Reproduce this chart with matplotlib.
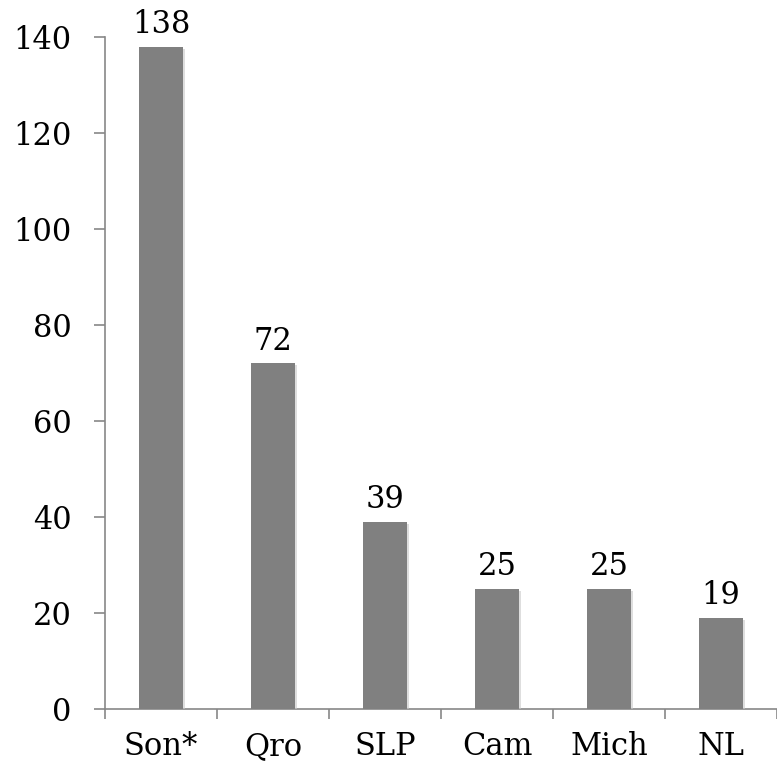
import matplotlib
matplotlib.use("Agg")
import matplotlib.pyplot as plt
import matplotlib.patheffects as pe

categories = ["Son*", "Qro", "SLP", "Cam", "Mich", "NL"]
values = [138, 72, 39, 25, 25, 19]
yticks = [0, 20, 40, 60, 80, 100, 120, 140]

plt.rcParams['font.family'] = ['DejaVu Serif']

fig = plt.figure(figsize=(7.77, 7.65), dpi=100)
ax = fig.add_axes([105/777, 56/765, 672/777, 672/765])

x = list(range(len(categories)))
bars = ax.bar(x, values, width=0.4, color="#808080", zorder=3)
for b in bars:
    b.set_path_effects([pe.SimplePatchShadow(offset=(1.5, -1.5), shadow_rgbFace="#c8c8c8", alpha=0.6), pe.Normal()])

for xi, v in zip(x, values):
    ax.annotate(str(v), (xi, v), xytext=(0, 10), textcoords="offset points",
                ha="center", va="baseline", fontsize=22, color="black")

ax.set_ylim(0, 140)
ax.set_xlim(-0.5, -0.5 + 672/112.5)
ax.set_yticks(yticks)
ax.set_yticklabels([str(t) for t in yticks], fontsize=22)
ax.set_xticks(x)
ax.set_xticklabels(categories, fontsize=22)
ax.set_xticks([i - 0.5 for i in range(len(categories) + 1)], minor=True)
ax.tick_params(axis="x", which="major", length=0, pad=16)
ax.tick_params(axis="x", which="minor", length=7, width=1.2, color="#878787", direction="out")
ax.tick_params(axis="y", length=8, width=1.2, color="#878787", direction="out", pad=16)

for s in ["top", "right"]:
    ax.spines[s].set_visible(False)
for s in ["left", "bottom"]:
    ax.spines[s].set_color("#878787")
    ax.spines[s].set_linewidth(1.2)

fig.savefig("out.png", dpi=100)
